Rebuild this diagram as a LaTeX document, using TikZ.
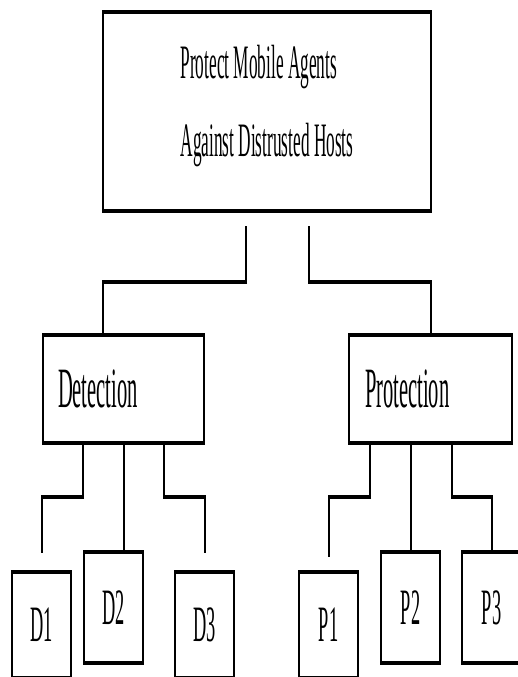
\documentclass[tikz,border=0pt]{standalone}
\usepackage{fontspec}
\setmainfont{Liberation Serif}

\newcommand{\slimtext}[1]{\scalebox{0.36}[1]{#1}}
\newcommand{\elbow}[3]{%
    \draw[wire] (#1) -- (#1 |- 0,#2);
    \draw[bar,shorten <=-1pt,shorten >=-1pt] (#1 |- 0,#2) -- (#3 |- 0,#2);
    \draw[wire] (#3 |- 0,#2) -- (#3);
}

\begin{document}
\begin{tikzpicture}[x=1pt,y=-1pt,
    box/.style={draw,line width=1.5pt,outer sep=0pt,inner sep=0pt},
    mid/.style={box,minimum width=161pt,minimum height=108pt,text width=131pt,align=left,font=\fontsize{57}{57}\selectfont},
    leaf/.style={box,minimum width=59pt,minimum height=106pt,font=\fontsize{51}{51}\selectfont},
    wire/.style={line width=2pt},
    bar/.style={line width=4pt}]
    \path[use as bounding box,clip] (0,0) rectangle (518,677);
    \node[box,minimum width=328pt,minimum height=199pt,align=left,text depth=22pt,font=\fontsize{48}{78}\selectfont] (top) at (267,111.5)
        {\slimtext{Protect Mobile Agents}\\\slimtext{Against Distrusted Hosts}};
    \node[mid] (det) at (123.5,389) {\slimtext{Detection}};
    \node[mid,minimum width=163pt] (pro) at (430.5,389) {\slimtext{Protection}};
    \node[leaf] (D1) at (41.5,625) {\slimtext{D1}};
    \node[leaf,minimum height=111pt] (D2) at (113.5,607.5) {\slimtext{D2}};
    \node[leaf] (D3) at (204.5,625) {\slimtext{D3}};
    \node[leaf] (P1) at (328.5,625) {\slimtext{P1}};
    \node[leaf,minimum height=111pt] (P2) at (410.5,607.5) {\slimtext{P2}};
    \node[leaf,minimum height=111pt] (P3) at (491.5,607.5) {\slimtext{P3}};
    \foreach \n in {top,det,pro,D1,D2,D3,P1,P2,P3}{
        \draw[bar,shorten <=-0.75pt,shorten >=-0.75pt] (\n.north west) -- (\n.north east);
        \draw[bar,shorten <=-0.75pt,shorten >=-0.75pt] (\n.south west) -- (\n.south east);
    }
    \coordinate (t1) at (246,226);
    \coordinate (t2) at (309,226);
    \coordinate (detin) at (det.north -| top.west);
    \coordinate (d1) at ([xshift=-40.5pt]det.south);
    \coordinate (d3) at ([xshift=40.5pt]det.south);
    \coordinate (p1) at ([xshift=-60.5pt]pro.south);
    \coordinate (p3) at ([xshift=21.5pt]pro.south);
    \coordinate (D1in) at ([yshift=19pt]D1.north);
    \coordinate (D3in) at ([yshift=19pt]D3.north);
    \coordinate (P1in) at ([yshift=15pt]P1.north);
    \elbow{t1}{282}{detin}
    \elbow{t2}{282}{pro.north}
    \elbow{d1}{497}{D1in}
    \draw[wire] (det.south) -- (det.south |- D2.north);
    \elbow{d3}{497}{D3in}
    \elbow{p1}{497}{P1in}
    \draw[wire] (P2.north |- pro.south) -- (P2.north);
    \elbow{p3}{497}{P3.north}
\end{tikzpicture}
\end{document}
